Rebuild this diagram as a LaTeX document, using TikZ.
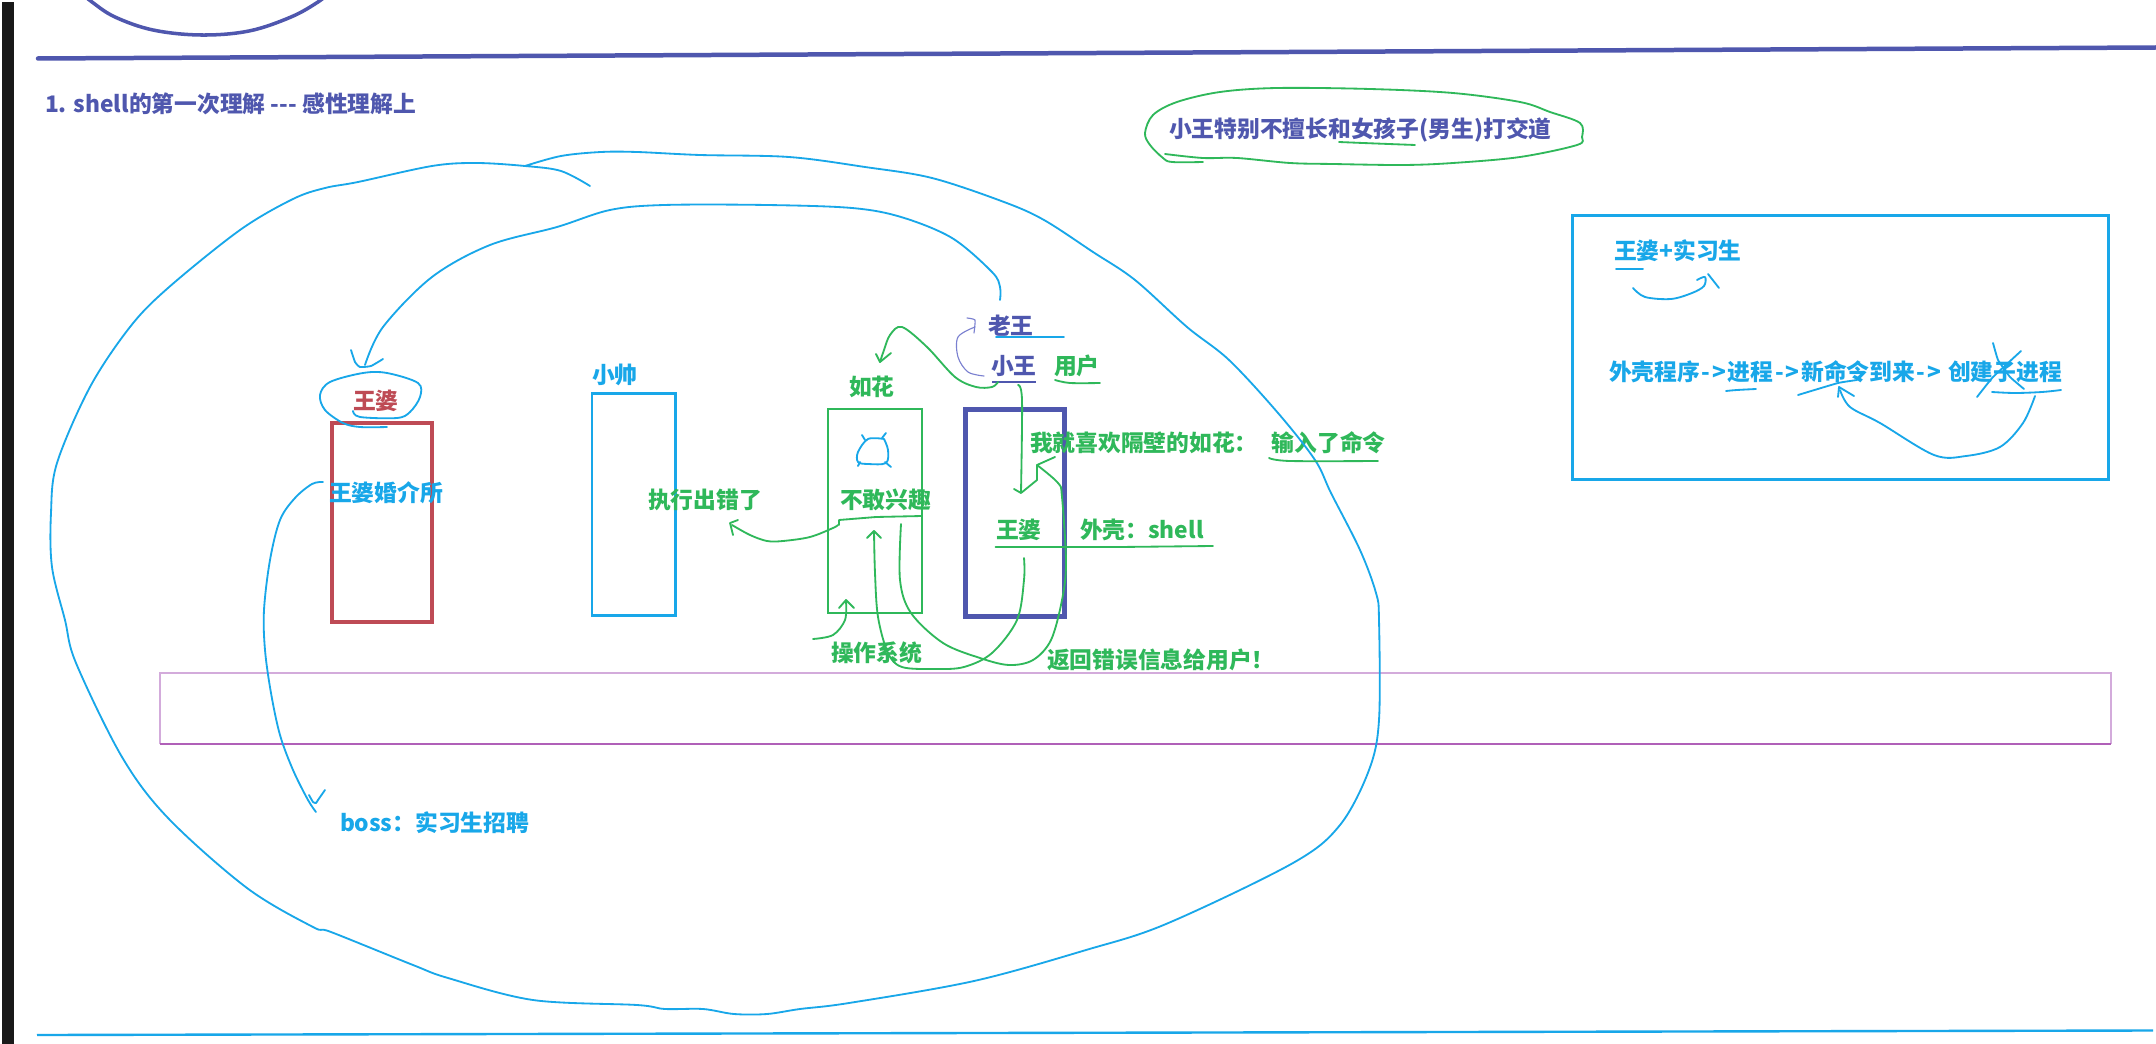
\documentclass[tikz,border=0pt]{standalone}
\usepackage{fontspec}
\setmainfont{Noto Sans CJK SC}
\definecolor{cblue}{HTML}{18A7E9}
\definecolor{cgreen}{HTML}{2FB85A}
\definecolor{cpurple}{HTML}{4F57AE}
\definecolor{cred}{HTML}{BE4B55}
\definecolor{cthin}{HTML}{7A80D0}
\definecolor{cpinktop}{HTML}{D3ABDB}
\definecolor{cpinkbot}{HTML}{B060B8}
\newcommand\arw{\kern2.4pt-\kern2.4pt>\kern2.6pt}
\tikzset{
  lbl/.style={anchor=west,inner sep=0pt,outer sep=0pt,font=\fontsize{32.4pt}{36pt}\selectfont\bfseries},
  pen/.style={line width=2.6pt,line cap=round,line join=round},
  penb/.style={pen,draw=cblue},
  peng/.style={pen,draw=cgreen},
  penp/.style={line width=1.6pt,line cap=round,line join=round,draw=cthin},
  sm/.style={smooth,tension=0.55},
}
\begin{document}
\begin{tikzpicture}[x=0.05cm,y=-0.05cm]
\useasboundingbox (0,0) rectangle (2156,1044);
\fill[white] (0,0) rectangle (2156,1044);
\clip (0,0) rectangle (2156,1044);
% frame lines
\fill[black!90] (2,2) rectangle (13.5,1044);
\draw[cpurple,line width=6.4pt,line cap=round] (38,58.5) -- (2156,47.5);
\draw[cblue,line width=3.4pt] (37,1035) -- (2153,1030.5);
\draw[cpurple,line width=5pt] plot[smooth,tension=0.6] coordinates {(80,-8) (92,2) (115,17) (153,30) (201,35) (249,31) (291,17) (318,2) (330,-8)};
% purple band
\draw[cpinktop,line width=2pt] (160,744) -- (160,673) -- (2111,673) -- (2111,744);
\draw[cpinkbot,line width=1.6pt] (160,744) -- (2111,744);
% boxes
\draw[cred,line width=5.7pt] (332,423) rectangle (432,622);
\draw[cblue,line width=4.2pt] (592,393.5) rectangle (675.5,615.5);
\draw[cgreen,line width=4.2pt] (828,409) rectangle (922,613);
\draw[cpurple,line width=7.2pt] (965.5,409.5) rectangle (1064.5,616.5);
\draw[cblue,line width=4.2pt] (1572.5,215.5) rectangle (2108,479.5);
% texts
\node[lbl,text=cpurple] (title) at (45,104) {1. shell的第一次理解 {-}{-}{-} 感性理解上};
\node[lbl,text=cpurple] (note) at (1169,130) {小王特别不擅长和女孩子(男生)打交道};
\node[lbl,text=cred] (wp) at (353,401) {王婆};
\node[lbl,text=cblue] (jiesuo) at (329,493) {王婆婚介所};
\node[lbl,text=cblue] (xs) at (592,375) {小帅};
\node[lbl,text=cblue] (boss) at (340,823) {boss：实习生招聘};
\node[lbl,text=cgreen] (err) at (648,500) {执行出错了};
\node[lbl,text=cgreen] (rh) at (849,387) {如花};
\node[lbl,text=cpurple] (lw) at (988,326) {老王};
\node[lbl,text=cpurple] (xw) at (991,366) {小王};
\node[lbl,text=cgreen] (yh) at (1054,366) {用户};
\node[lbl,text=cgreen] (like) at (1030,443) {我就喜欢隔壁的如花：\hspace{20pt}输入了命令};
\node[lbl,text=cgreen] (nogan) at (840,500) {不敢兴趣};
\node[lbl,text=cgreen] (wp2) at (996,530) {王婆};
\node[lbl,text=cgreen] (shell) at (1080,530) {外壳：shell};
\node[lbl,text=cgreen] (os) at (831,653) {操作系统};
\node[lbl,text=cgreen] (ret) at (1047,660) {返回错误信息给用户！};
\node[lbl,text=cblue] (pl) at (1614,251) {王婆+实习生};
\node[lbl,text=cblue] (flow) at (1609,372) {外壳程序\arw 进程\arw 新命令到来\arw\ 创建子进程};
% big loop
\draw[penb] plot[sm] coordinates {(590,186) (561,171) (525,166) (476,163) (432,166) (358,182) (325,188) (293,199) (240,230) (168,288) (130,327) (90,387) (57,463) (51,513) (52,567) (65,620) (76,663) (122,757) (168,818) (247,888) (313,927) (331,932) (413,965) (448,978) (533,1000) (637,1005) (665,1009) (703,1009) (734,1014) (767,1014) (800,1009) (849,1003) (974,981) (1086,950) (1166,924) (1293,863) (1340,825) (1369,770) (1379,720) (1379,620) (1376,593) (1360,550) (1331,493) (1315,460) (1278,413) (1229,360) (1187,327) (1135,280) (1093,252) (1044,220) (1004,202) (932,178) (865,167) (789,157) (700,155) (637,152) (601,152) (561,156) (525,166)};
% laowang to wangpo
\draw[penb] plot[sm] coordinates {(1000,300) (1000,287) (992,272) (952,238) (901,217) (852,208) (767,205) (664,205) (610,210) (557,227) (490,245) (432,277) (383,327) (365,365)};
\draw[penb] plot[sm,tension=0.3] coordinates {(351,350) (355,362) (360,367) (371,366) (383,359)};
% wangpo scribble
\draw[penb] plot[sm] coordinates {(353,411) (360,417) (397,418) (410,412) (420,397) (418,383) (387,373) (363,373) (330,382) (320,395) (325,410) (343,423) (360,427) (387,427)};
% jiesuo to boss
\draw[penb] plot[sm] coordinates {(323,482) (312,484) (295,498) (280,520) (270,560) (264,610) (265,650) (271,693) (280,735) (293,770) (308,800) (316,812)};
\draw[penb] plot[sm,tension=0.3] coordinates {(309,795) (313,802) (316,803) (318,800) (325,790)};
% oval
\draw[peng] plot[sm] coordinates {(1165,154) (1203,158) (1237,158) (1290,163) (1333,164) (1403,165) (1453,163) (1520,157) (1577,145) (1582,137) (1580,123) (1550,112) (1520,102) (1453,93) (1370,89) (1277,88) (1220,92) (1177,102) (1153,115) (1145,133) (1150,145) (1163,158) (1172,162) (1203,162)};
\draw[peng] plot[sm] coordinates {(1339,142) (1363,143) (1415,145)};
% laowang details
\draw[penb] (996,337) -- (1064,337);
\draw[line width=1.8pt,cpurple] (992,382) -- (1036,382);
\draw[penp] plot[sm] coordinates {(984,376) (968,372) (958,357) (958,337) (975,327)};
\draw[penp] plot[sm,tension=0.3] coordinates {(967,318) (975,320) (974,333)};
\draw[peng] plot[sm] coordinates {(1055,380) (1070,383) (1100,383)};
% xiaowang to ruhua
\draw[peng] plot[sm] coordinates {(998,382) (992,387) (976,387) (955,377) (927,347) (902,327) (890,335) (884,350) (880,362)};
\draw[peng] (876,354) -- (880,362) -- (891,353);
% bug
\draw[penb] plot[sm] coordinates {(884,439) (868,439) (858,452) (858,462) (868,464) (886,463) (888,450) (884,439)};
\draw[penb] (862,435) -- (865,440);
\draw[penb] (886,433) -- (882,438);
\draw[penb] (858,466) -- (860,462);
\draw[penb] (885,462) -- (891,467);
% not interested -> error
\draw[peng] (922,516) -- (876,517) -- (839,520) -- (839,525);
\draw[peng] plot[sm] coordinates {(838,525) (833,528) (810,537) (783,541) (767,541) (750,535) (732,525)};
\draw[peng] (738,520) -- (730,523) -- (733,535);
% down arrow and return
\draw[peng] plot[sm] coordinates {(1018,385) (1022,400) (1021,492)};
\draw[peng] (1014,489) -- (1021,493) -- (1037,480) -- (1037,465) -- (1055,457);
\draw[peng] plot[sm] coordinates {(1037,465) (1058,483) (1062,497) (1066,563) (1062,600) (1051,640) (1033,660) (1009,665) (980,658) (943,643) (911,613) (900,580) (901,524)};
\draw[peng] plot[sm] coordinates {(1024,558) (1024,580) (1017,620) (992,653) (964,667) (935,669) (902,667) (888,653) (878,617) (875,573) (874,531)};
\draw[peng] (867,538) -- (874,531) -- (881,538);
\draw[peng] plot[sm] coordinates {(813,639) (833,635) (845,620) (846,601)};
\draw[peng] (839,608) -- (846,600) -- (854,608);
% underlines
\draw[peng] plot[sm] coordinates {(1269,458) (1290,461) (1378,461)};
\draw[peng] (995.5,547) -- (1119,547) -- (1213,546);
% right box
\draw[penb] (1616,269) -- (1643,269);
\draw[penb] plot[sm] coordinates {(1633,288) (1645,297) (1671,299) (1692,293) (1704,286) (1705,277) (1697,280)};
\draw[penb] (1708,274) -- (1719,288);
\draw[penb] plot[sm] coordinates {(1726,391) (1737,390) (1756,389)};
\draw[penb] plot[sm,tension=0.2] coordinates {(1798,395) (1838,383) (1857,380)};
\draw[penb] plot[sm,tension=0.2] coordinates {(1993,343) (1998,360) (2010,377) (2024,389)};
\draw[penb] plot[sm,tension=0.2] coordinates {(2021,351) (1993,377) (1977,397)};
\draw[penb] plot[sm] coordinates {(1992,392) (2015,393) (2042,392) (2061,390)};
\draw[penb] plot[sm] coordinates {(2035,396) (2023,423) (2000,447) (1966,456) (1934,455) (1880,423) (1850,407) (1840,390)};
\draw[penb] (1838,397) -- (1839,387) -- (1854,396);
\end{tikzpicture}
\end{document}
